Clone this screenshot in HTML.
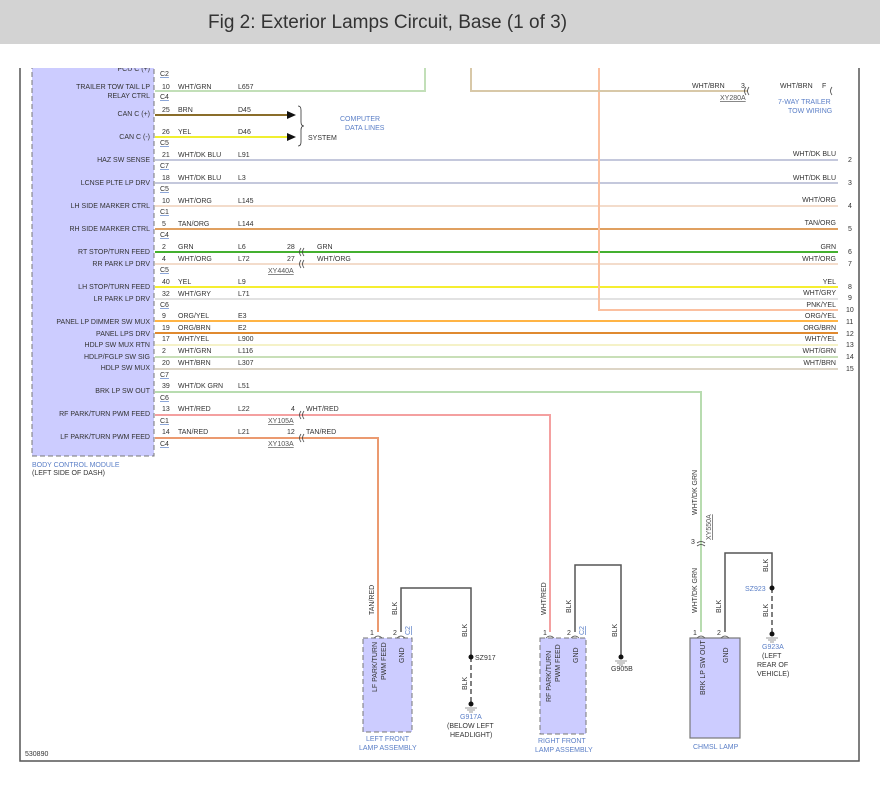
<!DOCTYPE html>
<html><head><meta charset="utf-8"><style>
html,body{margin:0;padding:0;background:#fff;}
svg{display:block;}
text{font-family:"Liberation Sans",sans-serif;font-size:7px;fill:#333;}
.b{fill:#5b7fc7;}
.u{fill:#5b7fc7;text-decoration:underline;}
.g{fill:#555;text-decoration:underline;}
</style></head><body>
<svg width="880" height="787" viewBox="0 0 880 787" xmlns="http://www.w3.org/2000/svg">
<!-- BCM -->
<rect x="32" y="55" width="122" height="401" fill="#ccccff" stroke="#777" stroke-dasharray="5,3"/>
<text x="150" y="71" text-anchor="end">PCU C (+)</text>
<rect x="0" y="44" width="880" height="24" fill="#fff"/>
<rect x="0" y="0" width="880" height="44" fill="#d3d3d3"/>
<text x="208" y="28" style="font-size:19px;fill:#333">Fig 2: Exterior Lamps Circuit, Base (1 of 3)</text>
<!-- frame -->
<path d="M20 68 V761 H859 V68" fill="none" stroke="#555" stroke-width="1.5"/>
<text x="32" y="467" class="b">BODY CONTROL MODULE</text>
<text x="32" y="475">(LEFT SIDE OF DASH)</text>
<g text-anchor="end">
<text x="150" y="89">TRAILER TOW TAIL LP</text>
<text x="150" y="98">RELAY CTRL</text>
<text x="150" y="116">CAN C (+)</text>
<text x="150" y="139">CAN C (-)</text>
<text x="150" y="162">HAZ SW SENSE</text>
<text x="150" y="185">LCNSE PLTE LP DRV</text>
<text x="150" y="208">LH SIDE MARKER CTRL</text>
<text x="150" y="231">RH SIDE MARKER CTRL</text>
<text x="150" y="254">RT STOP/TURN FEED</text>
<text x="150" y="266">RR PARK LP DRV</text>
<text x="150" y="289">LH STOP/TURN FEED</text>
<text x="150" y="301">LR PARK LP DRV</text>
<text x="150" y="324">PANEL LP DIMMER SW MUX</text>
<text x="150" y="336">PANEL LPS DRV</text>
<text x="150" y="347">HDLP SW MUX RTN</text>
<text x="150" y="359">HDLP/FGLP SW SIG</text>
<text x="150" y="370">HDLP SW MUX</text>
<text x="150" y="393">BRK LP SW OUT</text>
<text x="150" y="416">RF PARK/TURN PWM FEED</text>
<text x="150" y="439">LF PARK/TURN PWM FEED</text>
</g>
<g class="u">
<text x="160" y="76">C2</text><text x="160" y="99">C4</text><text x="160" y="145">C5</text>
<text x="160" y="168">C7</text><text x="160" y="191">C5</text><text x="160" y="214">C1</text>
<text x="160" y="237">C4</text><text x="160" y="272">C5</text><text x="160" y="307">C6</text>
<text x="160" y="377">C7</text><text x="160" y="400">C6</text><text x="160" y="423">C1</text>
<text x="160" y="446">C4</text>
</g>
<g fill="none" stroke-width="2">
<path d="M155 91 H425 V68" stroke="#c2dfb8"/>
<path d="M155 115 H287" stroke="#8a6d2a"/>
<path d="M155 137 H287" stroke="#f0ef30"/>
<path d="M155 160 H838" stroke="#c4c8dc"/>
<path d="M155 183 H838" stroke="#c4c8dc"/>
<path d="M155 206 H838" stroke="#f3dccb"/>
<path d="M155 229 H838" stroke="#e0a060"/>
<path d="M155 252 H838" stroke="#44b030"/>
<path d="M155 264 H838" stroke="#f3dccb"/>
<path d="M155 287 H838" stroke="#f5ee30"/>
<path d="M155 299 H838" stroke="#e2e2e2"/>
<path d="M599 68 V310 H838" stroke="#fbc0a0"/>
<path d="M155 321 H838" stroke="#ffb445"/>
<path d="M155 333 H838" stroke="#e08a30"/>
<path d="M155 345 H838" stroke="#f5f2c8"/>
<path d="M155 357 H838" stroke="#c8dfb8"/>
<path d="M155 369 H838" stroke="#ddd5c6"/>
<path d="M155 392 H701 V632" stroke="#b8dcb0"/>
<path d="M155 415 H550 V632" stroke="#f4a0a0"/>
<path d="M155 438 H378 V632" stroke="#eb9a70"/>
<path d="M471 68 V91 H748" stroke="#d8c8a8"/>
</g>
<path d="M287 111 L296 115 L287 119Z M287 133 L296 137 L287 141Z" fill="#111"/>
<path d="M298 106 q3 0 3 4 v12 q0 4 3 4 q-3 0 -3 4 v12 q0 4 -3 4" fill="none" stroke="#333" stroke-width="0.8"/>
<text x="308" y="140">SYSTEM</text>
<text x="340" y="121" class="b">COMPUTER</text>
<text x="345" y="130" class="b">DATA LINES</text>
<g>
<text x="162" y="89">10</text><text x="178" y="89">WHT/GRN</text><text x="238" y="89">L657</text>
<text x="162" y="112">25</text><text x="178" y="112">BRN</text><text x="238" y="112">D45</text>
<text x="162" y="134">26</text><text x="178" y="134">YEL</text><text x="238" y="134">D46</text>
<text x="162" y="157">21</text><text x="178" y="157">WHT/DK BLU</text><text x="238" y="157">L91</text>
<text x="162" y="180">18</text><text x="178" y="180">WHT/DK BLU</text><text x="238" y="180">L3</text>
<text x="162" y="203">10</text><text x="178" y="203">WHT/ORG</text><text x="238" y="203">L145</text>
<text x="162" y="226">5</text><text x="178" y="226">TAN/ORG</text><text x="238" y="226">L144</text>
<text x="162" y="249">2</text><text x="178" y="249">GRN</text><text x="238" y="249">L6</text>
<text x="162" y="261">4</text><text x="178" y="261">WHT/ORG</text><text x="238" y="261">L72</text>
<text x="162" y="284">40</text><text x="178" y="284">YEL</text><text x="238" y="284">L9</text>
<text x="162" y="296">32</text><text x="178" y="296">WHT/GRY</text><text x="238" y="296">L71</text>
<text x="162" y="318">9</text><text x="178" y="318">ORG/YEL</text><text x="238" y="318">E3</text>
<text x="162" y="330">19</text><text x="178" y="330">ORG/BRN</text><text x="238" y="330">E2</text>
<text x="162" y="341">17</text><text x="178" y="341">WHT/YEL</text><text x="238" y="341">L900</text>
<text x="162" y="353">2</text><text x="178" y="353">WHT/GRN</text><text x="238" y="353">L116</text>
<text x="162" y="365">20</text><text x="178" y="365">WHT/BRN</text><text x="238" y="365">L307</text>
<text x="162" y="388">39</text><text x="178" y="388">WHT/DK GRN</text><text x="238" y="388">L51</text>
<text x="162" y="411">13</text><text x="178" y="411">WHT/RED</text><text x="238" y="411">L22</text>
<text x="162" y="434">14</text><text x="178" y="434">TAN/RED</text><text x="238" y="434">L21</text>
</g>
<g fill="none" stroke="#444" stroke-width="0.8">
<path d="M301 248 q-3 4 0 8 M304 248 q-3 4 0 8 M301 260 q-3 4 0 8 M304 260 q-3 4 0 8"/>
<path d="M301 411 q-3 4 0 8 M304 411 q-3 4 0 8 M301 434 q-3 4 0 8 M304 434 q-3 4 0 8"/>
<path d="M746 87 q-3 4 0 8 M749 87 q-3 4 0 8 M832 87 q-3 4 0 8"/>
<path d="M697 543 q4 -3 8 0 M697 546 q4 -3 8 0"/>
</g>
<text x="287" y="249">28</text><text x="317" y="249">GRN</text>
<text x="287" y="261">27</text><text x="317" y="261">WHT/ORG</text>
<text x="268" y="273" class="g">XY440A</text>
<text x="291" y="411">4</text><text x="306" y="411">WHT/RED</text>
<text x="268" y="423" class="g">XY105A</text>
<text x="287" y="434">12</text><text x="306" y="434">TAN/RED</text>
<text x="268" y="446" class="g">XY103A</text>
<text x="692" y="88">WHT/BRN</text><text x="741" y="88">3</text>
<text x="720" y="100" class="g">XY280A</text>
<text x="780" y="88">WHT/BRN</text><text x="822" y="88">F</text>
<text x="778" y="104" class="b">7-WAY TRAILER</text>
<text x="788" y="113" class="b">TOW WIRING</text>
<g text-anchor="end">
<text x="836" y="156">WHT/DK BLU</text><text x="836" y="180">WHT/DK BLU</text>
<text x="836" y="202">WHT/ORG</text><text x="836" y="225">TAN/ORG</text>
<text x="836" y="249">GRN</text><text x="836" y="261">WHT/ORG</text>
<text x="836" y="284">YEL</text><text x="836" y="295">WHT/GRY</text>
<text x="836" y="307">PNK/YEL</text><text x="836" y="318">ORG/YEL</text>
<text x="836" y="330">ORG/BRN</text><text x="836" y="341">WHT/YEL</text>
<text x="836" y="353">WHT/GRN</text><text x="836" y="365">WHT/BRN</text>
</g>
<g>
<text x="848" y="162">2</text><text x="848" y="185">3</text><text x="848" y="208">4</text>
<text x="848" y="231">5</text><text x="848" y="254">6</text><text x="848" y="266">7</text>
<text x="848" y="289">8</text><text x="848" y="300">9</text><text x="846" y="312">10</text>
<text x="846" y="324">11</text><text x="846" y="336">12</text><text x="846" y="347">13</text>
<text x="846" y="359">14</text><text x="846" y="371">15</text>
</g>
<g>
<text transform="translate(374,615) rotate(-90)">TAN/RED</text>
<text transform="translate(546,615) rotate(-90)">WHT/RED</text>
<text transform="translate(697,515) rotate(-90)">WHT/DK GRN</text>
<text transform="translate(697,613) rotate(-90)">WHT/DK GRN</text>
<text transform="translate(711,540) rotate(-90)" class="g">XY550A</text>
<text x="691" y="544">3</text>
</g>
<g fill="none" stroke="#555" stroke-width="1.5">
<path d="M401 632 V588 H471 V657"/>
<path d="M471 657 V704" stroke-dasharray="5,3"/>
<path d="M575 632 V565 H621 V657"/>
<path d="M725 632 V553 H772 V588"/>
<path d="M772 588 V634" stroke-dasharray="5,3"/>
</g>
<g>
<circle cx="471" cy="657" r="2.5" fill="#111"/><circle cx="471" cy="704" r="2.5" fill="#111"/>
<circle cx="621" cy="657" r="2.5" fill="#111"/>
<circle cx="772" cy="588" r="2.5" fill="#111"/><circle cx="772" cy="634" r="2.5" fill="#111"/>
<path d="M465 708 h12 M467 710 h8 M469 712 h4 M615 661 h12 M617 663 h8 M619 665 h4 M766 638 h12 M768 640 h8 M770 642 h4" stroke="#999" stroke-width="1"/>
</g>
<text transform="translate(397,615) rotate(-90)">BLK</text>
<text transform="translate(467,637) rotate(-90)">BLK</text>
<text transform="translate(467,690) rotate(-90)">BLK</text>
<text x="475" y="660">SZ917</text>
<text x="460" y="719" class="b">G917A</text>
<text x="447" y="728">(BELOW LEFT</text>
<text x="450" y="737">HEADLIGHT)</text>
<text transform="translate(571,613) rotate(-90)">BLK</text>
<text transform="translate(617,637) rotate(-90)">BLK</text>
<text x="611" y="671">G905B</text>
<text transform="translate(721,613) rotate(-90)">BLK</text>
<text transform="translate(768,572) rotate(-90)">BLK</text>
<text transform="translate(768,617) rotate(-90)">BLK</text>
<text x="745" y="591" class="b">SZ923</text>
<text x="762" y="649" class="b">G923A</text>
<text x="762" y="658">(LEFT</text>
<text x="757" y="667">REAR OF</text>
<text x="757" y="676">VEHICLE)</text>
<rect x="363" y="638" width="49" height="94" fill="#ccccff" stroke="#777" stroke-dasharray="5,3"/>
<rect x="540" y="638" width="46" height="96" fill="#ccccff" stroke="#777" stroke-dasharray="5,3"/>
<rect x="690" y="638" width="50" height="100" fill="#ccccff" stroke="#777" stroke-width="1.2"/>
<g fill="none" stroke="#555" stroke-width="0.8">
<path d="M374 638 q4 -4 8 0 M397 638 q4 -4 8 0 M546 638 q4 -4 8 0 M571 638 q4 -4 8 0 M697 638 q4 -4 8 0 M721 638 q4 -4 8 0"/>
</g>
<text x="370" y="635">1</text><text x="393" y="635">2</text>
<text x="543" y="635">1</text><text x="567" y="635">2</text>
<text x="693" y="635">1</text><text x="717" y="635">2</text>
<text transform="translate(410,635) rotate(-90)" class="u">C2</text>
<text transform="translate(584,635) rotate(-90)" class="u">C2</text>
<text transform="translate(377,692) rotate(-90)">LF PARK/TURN</text>
<text transform="translate(386,680) rotate(-90)">PWM FEED</text>
<text transform="translate(404,663) rotate(-90)">GND</text>
<text transform="translate(551,702) rotate(-90)">RF PARK/TURN</text>
<text transform="translate(560,682) rotate(-90)">PWM FEED</text>
<text transform="translate(578,663) rotate(-90)">GND</text>
<text transform="translate(705,695) rotate(-90)">BRK LP SW OUT</text>
<text transform="translate(728,663) rotate(-90)">GND</text>
<text x="366" y="741" class="b">LEFT FRONT</text>
<text x="359" y="750" class="b">LAMP ASSEMBLY</text>
<text x="538" y="743" class="b">RIGHT FRONT</text>
<text x="535" y="752" class="b">LAMP ASSEMBLY</text>
<text x="693" y="749" class="b">CHMSL LAMP</text>
<text x="25" y="756">530890</text>
</svg>
</body></html>
